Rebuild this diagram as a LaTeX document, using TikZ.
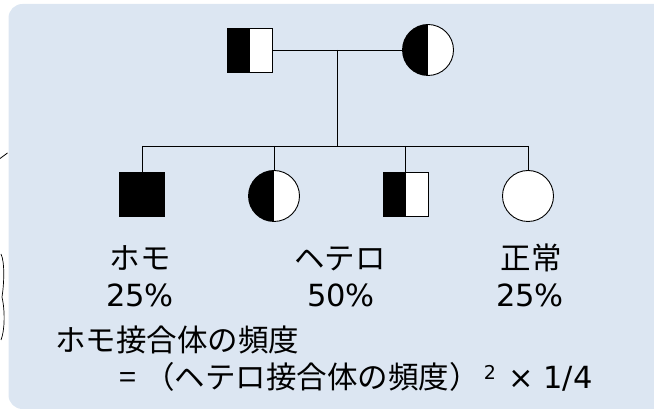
\documentclass[tikz,border=0pt]{standalone}
\usepackage{fontspec}
\setmainfont{Noto Sans CJK JP}
\newfontfamily\latfont{DejaVu Sans}
\definecolor{bgblue}{RGB}{220,230,242}
\begin{document}
\begin{tikzpicture}[x=1pt,y=-1pt,
  line width=0.9pt,
  sq/.style={draw, fill=white, rectangle, minimum width=45pt, minimum height=44pt, inner sep=0pt},
  ci/.style={draw, fill=white, circle, minimum size=51pt, inner sep=0pt},
  halfblack/.style={path picture={\fill[black] (path picture bounding box.south west) rectangle (path picture bounding box.north);}},
  lbl/.style={inner sep=0pt, font=\fontsize{30.5}{36}\selectfont},
  pct/.style={inner sep=0pt, font=\latfont\fontsize{30.5}{36}\selectfont},
]
\useasboundingbox (0,0) rectangle (654,411);
\fill[bgblue, rounded corners=14pt] (8.5,4) rectangle (668,409);
% fragments at left edge
\draw[line width=0.8pt] (0,158.5) -- (7.5,153);
\draw[line width=0.7pt] (1,254) .. controls (5,262) and (4,285) .. (2,297) .. controls (5,310) and (5,330) .. (1,340);
% parents
\node[sq, halfblack] (fa) at (249.5,50) {};
\node[ci, halfblack] (mo) at (428,50) {};
% children
\node[sq, fill=black] (c1) at (142,194) {};
\node[ci, halfblack] (c2) at (274,196) {};
\node[sq, halfblack] (c3) at (405.5,194) {};
\node[ci] (c4) at (528,196) {};
\coordinate (mid) at (337,50);
\coordinate (sib) at (337,146);
\draw (fa.east) -- (mo.west);
\draw (mid) -- (sib);
\draw (c1.north |- sib) -- (c4.north |- sib);
\foreach \c in {c1,c2,c3,c4} \draw (\c.north |- sib) -- (\c.north);
% labels
\node[lbl, anchor=base] (l1) at (140,270) {ホモ};
\node[pct, anchor=base] (p1) at (140,307) {25\%};
\node[lbl, anchor=base] (l2) at (340,270) {ヘテロ};
\node[pct, anchor=base] (p2) at (341,307) {50\%};
\node[lbl, anchor=base] (l3) at (531,270) {正常};
\node[pct, anchor=base] (p3) at (530,307) {25\%};
\node[lbl, anchor=base west] (f1) at (55,352) {ホモ接合体の頻度};
\node[lbl, anchor=base west] (f2) at (119,389) {=\hspace{8pt}（ヘテロ接合体の頻度）\hspace{4pt}\raisebox{9pt}{\latfont\fontsize{19}{19}\selectfont 2}\hspace{13pt}{\latfont ×}\hspace{9pt}{\latfont 1/4}};
\end{tikzpicture}
\end{document}
